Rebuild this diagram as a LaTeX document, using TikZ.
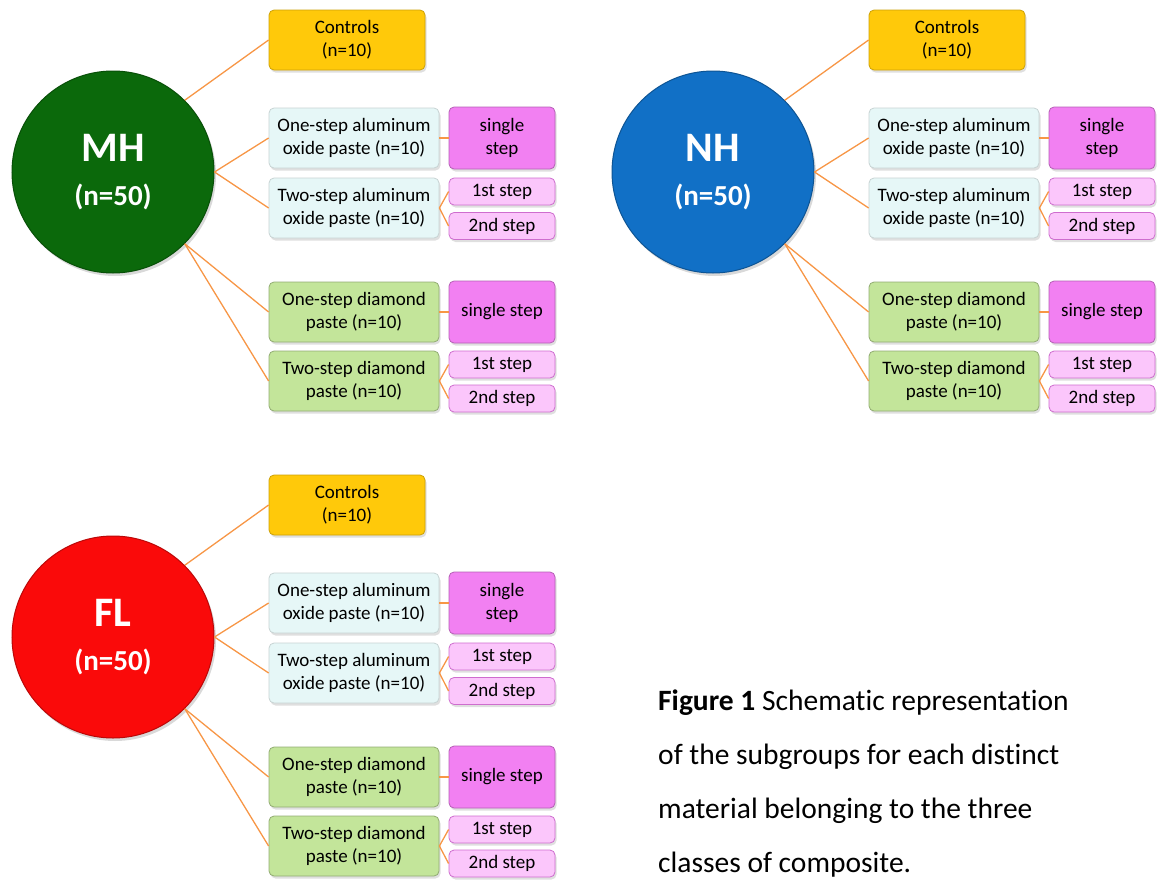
\documentclass[tikz,border=0pt]{standalone}
\usepackage{fontspec}
\setmainfont{Carlito}[Ligatures=CommonOff]
\usetikzlibrary{shadows}

\definecolor{mhgreen}{HTML}{0B690B}
\definecolor{nhblue}{HTML}{1170C6}
\definecolor{flred}{HTML}{FA0A0A}
\definecolor{ctrlgold}{HTML}{FFC90A}
\definecolor{alucyan}{HTML}{E6F7F7}
\definecolor{diagreen}{HTML}{C3E59A}
\definecolor{onepink}{HTML}{F280F2}
\definecolor{twopink}{HTML}{FBC6FB}
\definecolor{linkorange}{HTML}{F79646}

\tikzset{
  group/.style={circle, minimum size=202pt, inner sep=0pt, align=center,
    text=white, font=\bfseries, fill=#1, draw=#1!75!black, line width=1pt,
    drop shadow={opacity=0.3, shadow xshift=2pt, shadow yshift=-3pt}},
  box/.style={rounded corners=5pt, inner sep=1pt, align=center,
    font=\fontsize{19}{23}\selectfont, line width=0.8pt,
    drop shadow={opacity=0.25, shadow xshift=1.5pt, shadow yshift=-2.5pt}},
  ctrlbox/.style={box, minimum width=156pt, minimum height=60pt,
    fill=ctrlgold, draw=ctrlgold!80!black},
  alubox/.style={box, minimum width=170pt, minimum height=60pt,
    fill=alucyan, draw=alucyan!70!gray},
  diabox/.style={box, minimum width=170pt, minimum height=60pt,
    fill=diagreen, draw=diagreen!75!black},
  onestep/.style={box, minimum width=106pt, minimum height=62pt,
    fill=onepink, draw=onepink!75!black},
  twostep/.style={box, minimum width=106pt, minimum height=27pt,
    fill=twopink, draw=onepink!85!black},
  link/.style={draw=linkorange, line width=1.3pt}
}

\begin{document}
\begin{tikzpicture}[x=1pt,y=-1pt]
  \useasboundingbox (0,0) rectangle (1160,881);

  \foreach \g/\name/\dx/\dy/\col in {mh/MH/0/0/mhgreen, nh/NH/600/0/nhblue, fl/FL/0/465/flred}{
    \begin{scope}[shift={(\dx,\dy)}]
      \node[group=\col] (\g) at (113,172)
        {{\fontsize{42}{44}\selectfont \name}\\[21pt]{\fontsize{29}{30}\selectfont (n=50)}};

      \node[ctrlbox] (\g-c) at (347,40) {Controls\\(n=10)};
      \node[alubox] (\g-a1) at (354,138) {One-step aluminum\\oxide paste (n=10)};
      \node[alubox] (\g-a2) at (354,208) {Two-step aluminum\\oxide paste (n=10)};
      \node[diabox] (\g-d1) at (354,312) {One-step diamond\\paste (n=10)};
      \node[diabox] (\g-d2) at (354,381) {Two-step diamond\\paste (n=10)};

      \node[onestep] (\g-a1s) at (502,138) {single\\step};
      \node[twostep] (\g-a2f) at (502,191.5) {1st step};
      \node[twostep] (\g-a2s) at (502,226) {2nd step};
      \node[onestep] (\g-d1s) at (502,312) {single step};
      \node[twostep] (\g-d2f) at (502,364.5) {1st step};
      \node[twostep] (\g-d2s) at (502,398.5) {2nd step};

      % links
      \draw[link] (\g.45) -- (\g-c.west);
      \draw[link] (\g.east) -- (\g-a1.west);
      \draw[link] (\g.east) -- (\g-a2.west);
      \draw[link] (\g.-45) -- (\g-d1.west);
      \draw[link] (\g.-45) -- (\g-d2.west);
      \draw[link] (\g-a1.east) -- (\g-a1s.west);
      \draw[link] (\g-a2.east) -- (\g-a2f.west);
      \draw[link] (\g-a2.east) -- (\g-a2s.west);
      \draw[link] (\g-d1.east) -- (\g-d1s.west);
      \draw[link] (\g-d2.east) -- (\g-d2f.west);
      \draw[link] (\g-d2.east) -- (\g-d2s.west);
    \end{scope}
  }

  \node[anchor=north west, align=left, inner sep=0pt, font=\fontsize{29.5}{54}\selectfont]
    (caption) at (658,690)
    {\textbf{Figure 1} Schematic representation\\of the subgroups for each distinct\\material belonging to the three\\classes of composite.};
\end{tikzpicture}
\end{document}
